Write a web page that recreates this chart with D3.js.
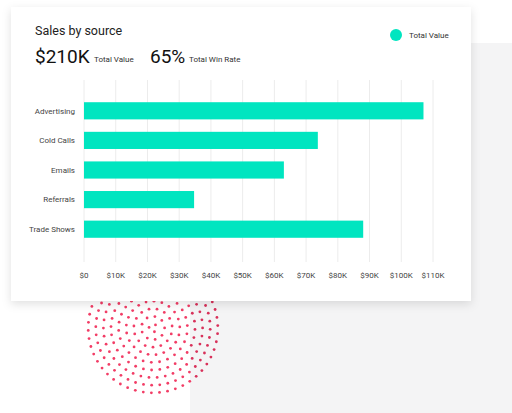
<!DOCTYPE html>
<html><head><meta charset="utf-8">
<script src="https://cdn.jsdelivr.net/npm/d3@7"></script>
<style>body{margin:0;background:#fff;font-family:Roboto,sans-serif}</style>
</head><body>
<script>
// Data
const sources = ["Advertising", "Cold Calls", "Emails", "Referrals", "Trade Shows"];
const totalValues = [107000, 73700, 63000, 34700, 88000];
const tickValues = [0, 10000, 20000, 30000, 40000, 50000, 60000, 70000, 80000, 90000, 100000, 110000];

const W = 512, H = 413;
const svg = d3.select("body").append("svg").attr("width", W).attr("height", H);

// Background decoration
svg.append("rect").attr("x", 471).attr("y", 43).attr("width", 41).attr("height", 370).attr("fill", "#f4f4f5");
svg.append("rect").attr("x", 190).attr("y", 300).attr("width", 322).attr("height", 113).attr("fill", "#f4f4f5");

const dots = svg.append("g");
const cx = 153, cy = 328;
for (let r = 4; r <= 66; r += 7.6) {
    const n = Math.max(1, Math.round(2 * Math.PI * r / 8.2));
    for (let k = 0; k < n; k++) {
        const a = k / n * 2 * Math.PI + r * 0.3;
        const x = cx + r * Math.cos(a), y = cy + r * Math.sin(a);
        if (y < 296) continue;
        dots.append("circle").attr("cx", x).attr("cy", y).attr("r", 1.4)
            .attr("fill", x > 190 && y > 300 ? "#d8315a" : "#f23d66");
    }
}

// Card
const defs = svg.append("defs");
const f = defs.append("filter").attr("id", "sh").attr("x", "-10%").attr("y", "-10%").attr("width", "120%").attr("height", "130%");
f.append("feDropShadow").attr("dx", 0).attr("dy", 3).attr("stdDeviation", 5).attr("flood-color", "#000").attr("flood-opacity", 0.12);
svg.append("rect").attr("x", 11).attr("y", 7).attr("width", 460).attr("height", 294).attr("fill", "#fff").attr("filter", "url(#sh)");

svg.append("text").attr("x", 35).attr("y", 35).attr("font-size", 12.5).attr("fill", "#222").text("Sales by source");
svg.append("text").attr("x", 35).attr("y", 63).attr("font-size", 19).attr("fill", "#111").text("$210K");
svg.append("text").attr("x", 94).attr("y", 62).attr("font-size", 8).attr("fill", "#333").text("Total Value");
svg.append("text").attr("x", 150).attr("y", 63).attr("font-size", 19).attr("fill", "#111").text("65%");
svg.append("text").attr("x", 189).attr("y", 62).attr("font-size", 8).attr("fill", "#333").text("Total Win Rate");
svg.append("circle").attr("cx", 396).attr("cy", 35).attr("r", 6).attr("fill", "#00e5c0");
svg.append("text").attr("x", 409).attr("y", 38).attr("font-size", 8).attr("fill", "#333").text("Total Value");

// Scales
const x = d3.scaleLinear().domain([0, 110000]).range([84, 433]);
const y = d3.scaleBand().domain(sources).range([96, 244]).paddingInner(0.42).paddingOuter(0.21);

svg.append("g").selectAll("line").data(tickValues).join("line")
    .attr("x1", d => x(d)).attr("x2", d => x(d)).attr("y1", 80).attr("y2", 262)
    .attr("stroke", "#ececec").attr("stroke-width", 1);

svg.append("g").selectAll("rect").data(sources).join("rect")
    .attr("x", x(0)).attr("y", d => y(d)).attr("height", y.bandwidth())
    .attr("width", (d, i) => x(totalValues[i]) - x(0)).attr("fill", "#00e5c0");

svg.append("g").selectAll("text").data(sources).join("text")
    .attr("x", 75).attr("y", d => y(d) + y.bandwidth() / 2).attr("dy", "0.35em")
    .attr("text-anchor", "end").attr("font-size", 8).attr("fill", "#444").text(d => d);

svg.append("g").selectAll("text").data(tickValues).join("text")
    .attr("x", d => x(d)).attr("y", 278).attr("text-anchor", "middle")
    .attr("font-size", 8).attr("fill", "#444").text(d => d === 0 ? "$0" : "$" + d / 1000 + "K");
</script>
</body></html>
